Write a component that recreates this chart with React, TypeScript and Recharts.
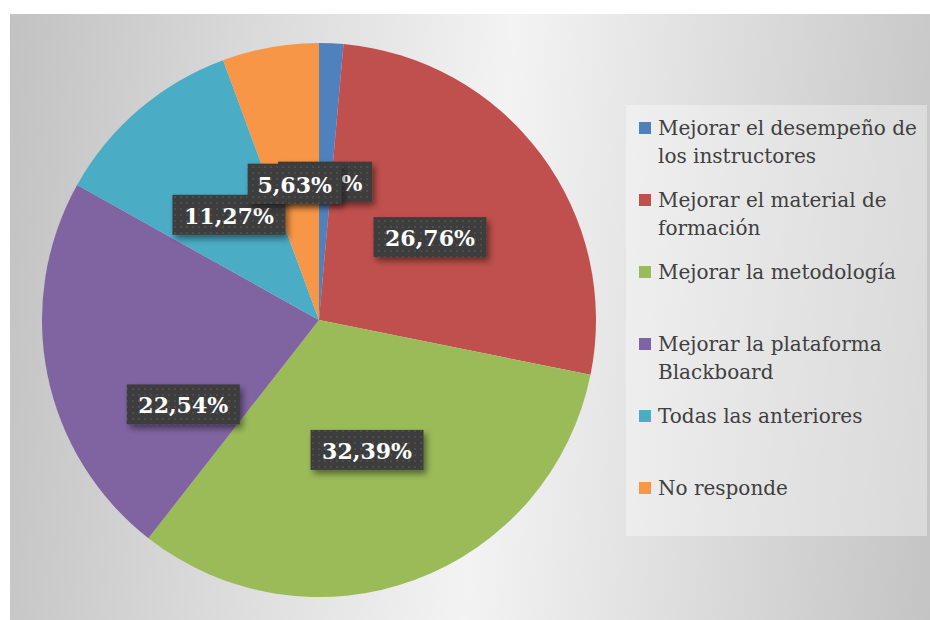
import React from 'react';
import { PieChart, Pie, Cell, Legend } from 'recharts';

const categories = [
  'Mejorar el desempeño de los instructores',
  'Mejorar el material de formación',
  'Mejorar la metodología',
  'Mejorar la plataforma Blackboard',
  'Todas las anteriores',
  'No responde',
];
const legendLines = [
  ['Mejorar el desempeño de', 'los instructores'],
  ['Mejorar el material de', 'formación'],
  ['Mejorar la metodología'],
  ['Mejorar la plataforma', 'Blackboard'],
  ['Todas las anteriores'],
  ['No responde'],
];
const values = [1.41, 26.76, 32.39, 22.54, 11.27, 5.63];
const colors = ['#4F81BD', '#C0504D', '#9BBB59', '#8064A2', '#4BACC6', '#F79646'];
// manual label nudge (Excel label was dragged)
const labelNudgeY = [0, 0, 0, 57, 0, 0];

const data = categories.map((name, i) => ({ name, value: values[i] }));

const fmt = (v: number) => v.toFixed(2).replace('.', ',') + '%';

const RAD = Math.PI / 180;

const renderLabel = (props: any) => {
  const { cx, cy, midAngle, outerRadius, index, value } = props;
  const r = outerRadius * 0.5;
  const x = cx + r * Math.cos(-midAngle * RAD);
  const y = cy + r * Math.sin(-midAngle * RAD) + labelNudgeY[index];
  const text = fmt(value);
  const w = text.length * 19 - 1;
  const h = 40;
  const pid = `dots${index}`;
  const fid = `shadow${index}`;
  return (
    <g key={`lbl${index}`}>
      <defs>
        <pattern id={pid} width="6" height="6" patternUnits="userSpaceOnUse">
          <rect width="6" height="6" fill="#3c3c3c" />
          <rect x="2" y="2" width="2" height="2" fill="#4e4e4e" />
        </pattern>
        <filter id={fid} x="-20%" y="-30%" width="150%" height="180%">
          <feDropShadow dx="3" dy="4" stdDeviation="3" floodColor="#000" floodOpacity="0.45" />
        </filter>
      </defs>
      <rect x={x - w / 2} y={y - h / 2} width={w} height={h} fill={`url(#${pid})`} filter={`url(#${fid})`} />
      <text
        x={x}
        y={y + 1}
        textAnchor="middle"
        dominantBaseline="central"
        fill="#ffffff"
        fontFamily="'DejaVu Serif', serif"
        fontWeight="bold"
        fontSize={22}
      >
        {text}
      </text>
    </g>
  );
};

const LegendContent = () => (
  <div
    style={{
      width: 301,
      height: 431,
      background: 'rgba(255,255,255,0.35)',
      boxSizing: 'border-box',
      paddingTop: 9,
      fontFamily: "'DejaVu Serif', serif",
      fontSize: 20,
      color: '#404040',
    }}
  >
    {legendLines.map((lines, i) => (
      <div key={i} style={{ position: 'relative', height: 72 }}>
        <div
          style={{
            position: 'absolute',
            left: 13,
            top: 8,
            width: 12,
            height: 12,
            background: colors[i],
          }}
        />
        <div style={{ position: 'absolute', left: 32, top: 0, lineHeight: '28px', whiteSpace: 'nowrap' }}>
          {lines.map((l, j) => (
            <div key={j}>{l}</div>
          ))}
        </div>
      </div>
    ))}
  </div>
);

export default function App() {
  return (
    <div
      style={{
        position: 'absolute',
        left: 10,
        top: 14,
        width: 920,
        height: 606,
        background: 'linear-gradient(95deg, #c2c2c2 0%, #f3f3f3 52%, #c4c4c4 100%)',
      }}
    >
      <PieChart width={920} height={606} margin={{ top: 0, right: 0, bottom: 0, left: 0 }}>
        <Pie
          data={data}
          dataKey="value"
          nameKey="name"
          cx={309}
          cy={306}
          outerRadius={277}
          startAngle={90}
          endAngle={-270}
          stroke="none"
          labelLine={false}
          label={renderLabel}
          isAnimationActive={false}
        >
          {data.map((d, i) => (
            <Cell key={d.name} fill={colors[i]} />
          ))}
        </Pie>
        <Legend
          content={<LegendContent />}
          wrapperStyle={{ position: 'absolute', left: 616, top: 91, width: 301, height: 431 }}
        />
      </PieChart>
    </div>
  );
}
